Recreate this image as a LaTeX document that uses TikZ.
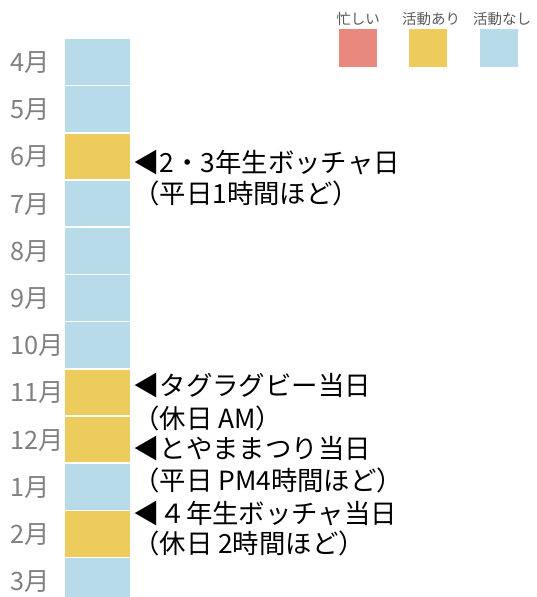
\documentclass[tikz,border=0pt]{standalone}
\usepackage{fontspec}
\newfontfamily\jp{Noto Sans CJK JP}
\definecolor{cblue}{HTML}{B7DBE8}
\definecolor{cyellow}{HTML}{EDCC5D}
\definecolor{cred}{HTML}{E9897E}
\definecolor{cmonth}{HTML}{808080}
\definecolor{clegend}{HTML}{595959}
\begin{document}
\begin{tikzpicture}[x=1pt,y=-1pt,
  blk/.style={anchor=north west,inner sep=0pt,minimum width=65.5pt,minimum height=45.5pt},
  lgbox/.style={anchor=north west,inner sep=0pt,minimum width=38pt,minimum height=38pt},
  lgtext/.style={inner sep=0pt,text=clegend,font=\jp\fontsize{14.5}{16}\selectfont},
  mon/.style={anchor=base west,inner sep=0pt,text=cmonth,font=\jp\fontsize{25.3}{28}\selectfont},
  note/.style={anchor=base west,inner sep=0pt,text=black,font=\jp\fontsize{26.4}{30}\selectfont}]
\useasboundingbox (0,0) rectangle (536,597);
% legend
\node[lgbox,fill=cred] (lbusy) at (339,29) {};
\node[lgbox,fill=cyellow] (lact) at (409,29) {};
\node[lgbox,fill=cblue] (lnone) at (480,29) {};
\node[lgtext] (tbusy) at (358,19) {忙しい};
\node[lgtext] (tact) at (431,19) {活動あり};
\node[lgtext] (tnone) at (502,19) {活動なし};
% month blocks
\foreach \m/\i/\c in {4/0/cblue,5/1/cblue,6/2/cyellow,7/3/cblue,8/4/cblue,9/5/cblue,10/6/cblue,11/7/cyellow,12/8/cyellow,1/9/cblue,2/10/cyellow}{
  \node[blk,fill=\c] (m\m) at (64.5,{39+47.2*\i}) {};
  \node[mon] (l\m) at (10,{39+47.2*\i+32.5}) {\m 月};
}
\node[blk,fill=cblue,minimum height=38.8pt] (m3) at (64.5,558.2) {};
\node[mon] (l3) at (10,{558.2+32.5}) {3月};
% annotations
\node[note] (a6a) at (133,172) {◀2・3年生ボッチャ日};
\node[note] (a6b) at (133,203) {（平日1時間ほど）};
\node[note] (a11a) at (133,395) {◀タグラグビー当日};
\node[note] (a11b) at (133,428) {（休日 AM）};
\node[note] (a12a) at (133,458) {◀とやままつり当日};
\node[note] (a12b) at (133,490) {（平日 PM4時間ほど）};
\node[note] (a2a) at (133,523) {◀４年生ボッチャ当日};
\node[note] (a2b) at (133,553) {（休日 2時間ほど）};
\end{tikzpicture}
\end{document}
